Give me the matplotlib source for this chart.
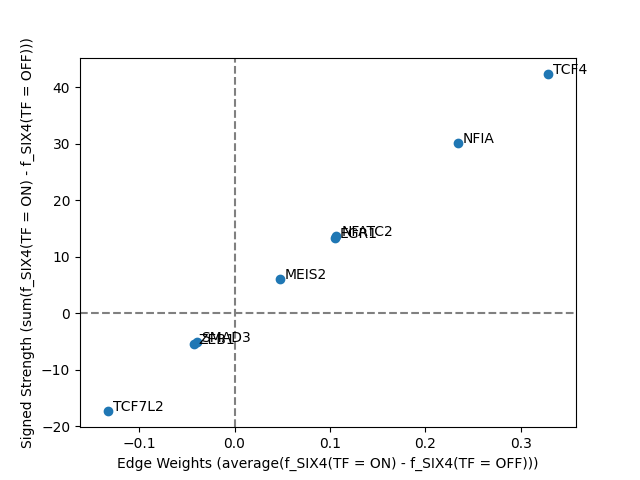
import matplotlib
matplotlib.use("Agg")
import matplotlib.pyplot as plt

tfs = ["TCF4", "NFIA", "NFATC2", "EGR1", "MEIS2", "SMAD3", "ZEB1", "TCF7L2"]
edge_w = [0.329, 0.2346, 0.1068, 0.1050, 0.0475, -0.0395, -0.0427, -0.1326]
strength = [42.4, 30.1, 13.7, 13.4, 6.1, -5.1, -5.5, -17.25]

fig, ax = plt.subplots(figsize=(6.4, 4.8), dpi=100)
ax.scatter(edge_w, strength)
for name, x, y in zip(tfs, edge_w, strength):
    ax.text(x + 0.005, y, name)

ax.axhline(0, color="grey", ls="--")
ax.axvline(0, color="grey", ls="--")
ax.set_xlim(-0.162, 0.358)
ax.set_ylim(-20.15, 45.25)
ax.set_xlabel("Edge Weights (average(f_SIX4(TF = ON) - f_SIX4(TF = OFF)))")
ax.set_ylabel("Signed Strength (sum(f_SIX4(TF = ON) - f_SIX4(TF = OFF)))")

plt.savefig("out.png")
